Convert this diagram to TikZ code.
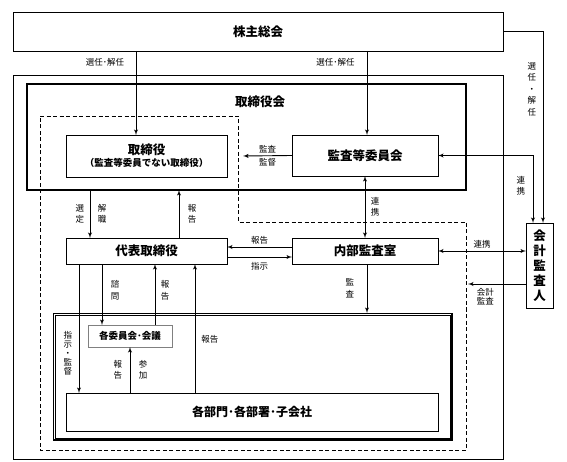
\documentclass[tikz,border=0pt]{standalone}
\usepackage{fontspec}
\setmainfont{Noto Sans CJK JP}
\usetikzlibrary{shapes,arrows}
\tikzset{%
    block/.style = {draw, line width=0.8pt, rectangle, align=center, inner sep=0pt, outer sep=0pt, font=\bfseries\fontsize{12.5}{15}\selectfont},
    note/.style = {align=center, inner sep=1.5pt, font=\fontsize{8.5}{11.5}\selectfont},
}

\begin{document}
\begin{tikzpicture}[x=1pt, y=-1pt, line width=0.9pt, >=latex']
        \useasboundingbox (0,0) rectangle (567,462);
        % frames
        \draw[line width=0.7pt] (13,75) rectangle (503,459);
        \draw[line width=0.9pt, dash pattern=on 4pt off 2.5pt]
            (40,116) -- (238,116) -- (238,222) -- (466,222) -- (466,450) -- (40,450) -- cycle;
        \coordinate (kantoku) at (243,156);
        \coordinate (kansaend) at (468,284);

        \draw
            node at (258,31.5) [block, minimum width=490pt, minimum height=39pt] (soukai)
            {株主総会}
            node at (246.5,137) [block, line width=1.8pt, minimum width=439pt, minimum height=106pt] (kai)
            {}
            node at (260,102) [font=\bfseries\fontsize{12.5}{15}\selectfont] (kaititle)
            {取締役会}
            node at (146.5,156) [block, minimum width=161pt, minimum height=42pt] (torishimari)
            {取締役\\[-3pt]{\fontsize{9.5}{11}\selectfont（監査等委員でない取締役）}}
            node at (365,155.5) [block, minimum width=146pt, minimum height=41pt] (kansa)
            {監査等委員会}
            node at (146.5,251) [block, minimum width=161pt, minimum height=26pt] (daihyo)
            {代表取締役}
            node at (365,251) [block, minimum width=146pt, minimum height=26pt] (naibu)
            {内部監査室}
            node at (539.5,265.5) [block, minimum width=27pt, minimum height=85pt,
                font=\bfseries\fontsize{12.5}{15}\selectfont] (kaikei)
            {会\\計\\監\\査\\人}
            node at (252.5,376.5) [block, line width=0.7pt, minimum width=399pt, minimum height=127pt] (soshiki)
            {}
            node at (130,336) [block, draw=gray, line width=1pt, minimum width=84pt, minimum height=22pt,
                font=\bfseries\fontsize{9.5}{11}\selectfont] (iinkai)
            {各委員会･会議}
            node at (252,412) [block, minimum width=372pt, minimum height=38pt,
                font=\bfseries\fontsize{12}{14}\selectfont] (kakubu)
            {各部門･各部署･子会社};
        \draw[line width=0.6pt] ([shift={(2.2pt,-2.2pt)}]soshiki.north west) rectangle ([shift={(-2.2pt,2.2pt)}]soshiki.south east);
        \draw[line width=1.4pt] (soshiki.north east) |- (soshiki.south west);

        \draw[->] ([xshift=-10.5pt]torishimari.north |- soukai.south) -- node[note, pos=0.14, left=10pt]
            {選任･解任} ([xshift=-10.5pt]torishimari.north);
        \draw[->] ([xshift=2pt]kansa.north |- soukai.south) -- node[note, pos=0.14, left=10.5pt]
            {選任･解任} ([xshift=2pt]kansa.north);
        \draw[->] (soukai.east) -| node[note, pos=0.65, left=5pt]
            {選\\任\\・\\解\\任} ([xshift=3.5pt]kaikei.north);
        \draw[<->] (kansa.east) -| node[note, pos=0.725, left=6pt]
            {連\\携} ([xshift=-6.5pt]kaikei.north);
        \draw[->] (kansa.west) -- node[note, above=1pt] {監査} node[note, below=1pt] {監督} (kantoku);
        \draw[<->] (kansa.south) -- node[note, right=4pt] {連\\携} (naibu.north);
        \draw[->] ([yshift=4pt]naibu.west) -- node[note, above=1pt] {報告} ([yshift=4pt]daihyo.east);
        \draw[->] ([yshift=-6pt]daihyo.west -| daihyo.east) -- node[note, below=3pt] {指示} ([yshift=-6pt]naibu.west);
        \draw[<->] (naibu.east) -- node[note, above=1pt] {連携} (naibu.east -| kaikei.west);
        \draw[->] ([yshift=-18.5pt]kaikei.west) -- node[note, pos=0.7, below=2pt] {会計\\[-2pt]監査} (kansaend);

        \draw[->] ([xshift=-56.5pt]daihyo.north |- kai.south) -- node[note, left=4pt] {選\\定}
            node[note, right=6pt] {解\\職} ([xshift=-56.5pt]daihyo.north);
        \draw[->] ([xshift=32.5pt]daihyo.north) -- node[note, right=7pt] {報\\告}
            ([xshift=32.5pt]daihyo.north |- kai.south);
        \draw[->] ([xshift=-67.5pt]daihyo.south) -- node[note, pos=0.69, left=5pt,
            font=\fontsize{8.5}{9}\selectfont] {指\\示\\・\\監\\督} ([xshift=-67.5pt]daihyo.south |- kakubu.north);
        \draw[->] ([xshift=-44.5pt]daihyo.south) -- node[note, pos=0.43, right=7pt] {諮\\問}
            ([xshift=-44.5pt]daihyo.south |- iinkai.north);
        \draw[->] ([xshift=25pt]iinkai.north) -- node[note, pos=0.57, right=4pt] {報\\告}
            ([xshift=25pt]iinkai.north |- daihyo.south);
        \draw[->] ([xshift=48.5pt]daihyo.south |- kakubu.north) -- node[note, pos=0.42, right=4.5pt] {報告}
            ([xshift=48.5pt]daihyo.south);
        \draw[->] (iinkai.south |- kakubu.north) -- node[note, left=6pt] {報\\告}
            node[note, right=7pt] {参\\加} (iinkai.south);
        \draw[->] ([xshift=2pt]naibu.south) -- node[note, pos=0.49, left=11pt] {監\\査}
            ([xshift=2pt]naibu.south |- soshiki.north);
    \end{tikzpicture}
\end{document}
